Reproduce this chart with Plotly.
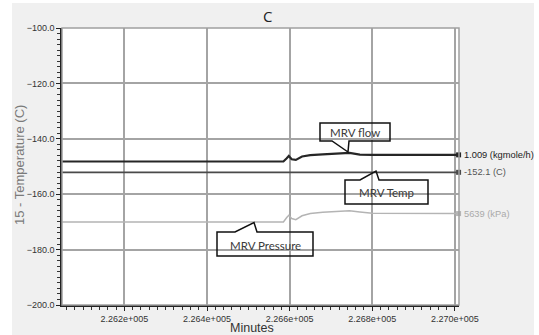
import plotly.graph_objects as go

# ---- data ----
time_min = [226049, 226585, 226593, 226598, 226605, 226615, 226630, 226650,
            226680, 226715, 226745, 226770, 226800, 227009]
mrv_flow = [-148.2, -148.2, -147.0, -146.2, -147.4, -147.6, -146.4, -145.9,
            -145.6, -145.2, -145.1, -145.7, -145.8, -145.8]
mrv_temp = [-152.1] * len(time_min)
mrv_pressure = [-170.0, -170.0, -168.4, -167.6, -168.8, -169.2, -167.8, -167.0,
                -166.5, -166.1, -166.0, -166.4, -166.9, -167.0]

series_names = ["MRV flow", "MRV Temp", "MRV Pressure"]
end_labels = ["1.009 (kgmole/h)", "-152.1 (C)", "5639 (kPa)"]
x_tickvals = [226200, 226400, 226600, 226800, 227000]
x_ticktext = ["2.262e+005", "2.264e+005", "2.266e+005", "2.268e+005", "2.270e+005"]
y_tickvals = [-200, -180, -160, -140, -120, -100]

W, H = 539, 335
ML, MR, MT, MB = 62, 80, 28, 30
PW, PH = W - ML - MR, H - MT - MB


def px(x):
    return (x - ML) / PW


def py(y):
    return 1 - (y - MT) / PH


colors = ["#262626", "#4a4a4a", "#b4b4b4"]
widths = [2.2, 1.8, 1.5]
label_colors = ["#222222", "#555555", "#aaaaaa"]
all_series = [mrv_flow, mrv_temp, mrv_pressure]

fig = go.Figure()
for ys, c, w in zip(all_series, colors, widths):
    fig.add_trace(go.Scatter(x=time_min, y=ys, mode="lines",
                             line=dict(color=c, width=w), showlegend=False,
                             hoverinfo="skip", cliponaxis=False))
    fig.add_trace(go.Scatter(x=[time_min[-1]], y=[ys[-1]], mode="markers",
                             marker=dict(symbol="square", size=5, color=c),
                             showlegend=False, cliponaxis=False))

shapes = []
# white outer strips around the grey panel
for (x0, y0, x1, y1) in [(0, 0, 12, H), (0, 0, W, 3), (534, 0, W, H)]:
    shapes.append(dict(type="rect", xref="paper", yref="paper",
                       x0=px(x0), x1=px(x1), y0=py(y0), y1=py(y1),
                       fillcolor="white", line=dict(width=0), layer="below"))
# plot border (top/right grey)
shapes.append(dict(type="rect", xref="paper", yref="paper", x0=0, x1=1, y0=0, y1=1,
                   line=dict(color="#a0a0a0", width=1.5), layer="above"))


def callout(box, tail, tip_side):
    x0, y0, x1, y1 = box
    (bx0, by0), (tx, ty), (bx1, by1) = tail
    if tip_side == "bottom":
        pts = [(x0, y0), (x1, y0), (x1, y1), (bx1, y1), (tx, ty), (bx0, y1), (x0, y1)]
    else:
        pts = [(x0, y0), (bx0, y0), (tx, ty), (bx1, y0), (x1, y0), (x1, y1), (x0, y1)]
    path = "M " + " L ".join(f"{px(a):.5f},{py(b):.5f}" for a, b in pts) + " Z"
    return dict(type="path", xref="paper", yref="paper", path=path,
                line=dict(color="#111111", width=1.5), fillcolor="rgba(0,0,0,0)",
                layer="above")


callouts = [
    ((320, 123, 390, 141), ((332, 141), (348, 152), (349, 141)), "bottom", (355, 132)),
    ((345, 180, 428, 204), ((360, 180), (376, 171), (379, 180)), "top", (386.5, 192.5)),
    ((217, 232, 313, 256), ((235, 232), (254, 222.5), (257, 232)), "top", (265, 245)),
]
annotations = []
for name, (box, tail, side, tpos) in zip(series_names, callouts):
    shapes.append(callout(box, tail, side))
    annotations.append(dict(text=name, xref="paper", yref="paper",
                            x=px(tpos[0]), y=py(tpos[1]), showarrow=False,
                            font=dict(family="Lato", size=11.5, color="#3a3a3a"),
                            xanchor="center", yanchor="middle"))

for ys, lab, lc in zip(all_series, end_labels, label_colors):
    annotations.append(dict(text=lab, xref="paper", yref="y", x=px(462), y=ys[-1],
                            showarrow=False, xanchor="left", yanchor="middle",
                            font=dict(family="Arial", size=9.3, color=lc)))

annotations.append(dict(text="C", xref="paper", yref="paper", x=px(267), y=py(16),
                        showarrow=False, font=dict(family="Open Sans", size=15, color="#222222"),
                        xanchor="center", yanchor="middle"))
annotations.append(dict(text="15 - Temperature (C)", xref="paper", yref="paper",
                        x=px(20), y=py(165), textangle=-90, showarrow=False,
                        font=dict(family="Arial", size=13, color="#7a7a7a"),
                        xanchor="center", yanchor="middle"))
annotations.append(dict(text="Minutes", xref="paper", yref="paper",
                        x=px(252), y=py(328), showarrow=False,
                        font=dict(family="Arial", size=12.5, color="#333333"),
                        xanchor="center", yanchor="middle"))

fig.update_layout(
    width=W, height=H,
    margin=dict(l=ML, r=MR, t=MT, b=MB, pad=0),
    paper_bgcolor="#f0f0f0", plot_bgcolor="white",
    shapes=shapes, annotations=annotations,
    xaxis=dict(range=[226049, 227010], tickvals=x_tickvals, ticktext=x_ticktext,
               showgrid=True, gridcolor="#a4a4a4", gridwidth=1.5, zeroline=False,
               showline=True, linecolor="#222222", linewidth=1.5,
               ticks="outside", ticklen=4, tickcolor="#222222",
               minor=dict(dtick=20, ticks="outside", ticklen=3, tickcolor="#333333",
                          showgrid=False, tick0=226000),
               tickfont=dict(family="Arial", size=9, color="#333333")),
    yaxis=dict(range=[-200, -100], tickvals=y_tickvals, tickformat=".1f",
               showgrid=True, gridcolor="#a4a4a4", gridwidth=1.5, zeroline=False,
               showline=True, linecolor="#222222", linewidth=1.5,
               ticks="outside", ticklen=4, tickcolor="#222222",
               minor=dict(dtick=2, ticks="outside", ticklen=3, tickcolor="#333333",
                          showgrid=False),
               tickfont=dict(family="Arial", size=9, color="#333333")),
)

fig.write_html("out.html")
